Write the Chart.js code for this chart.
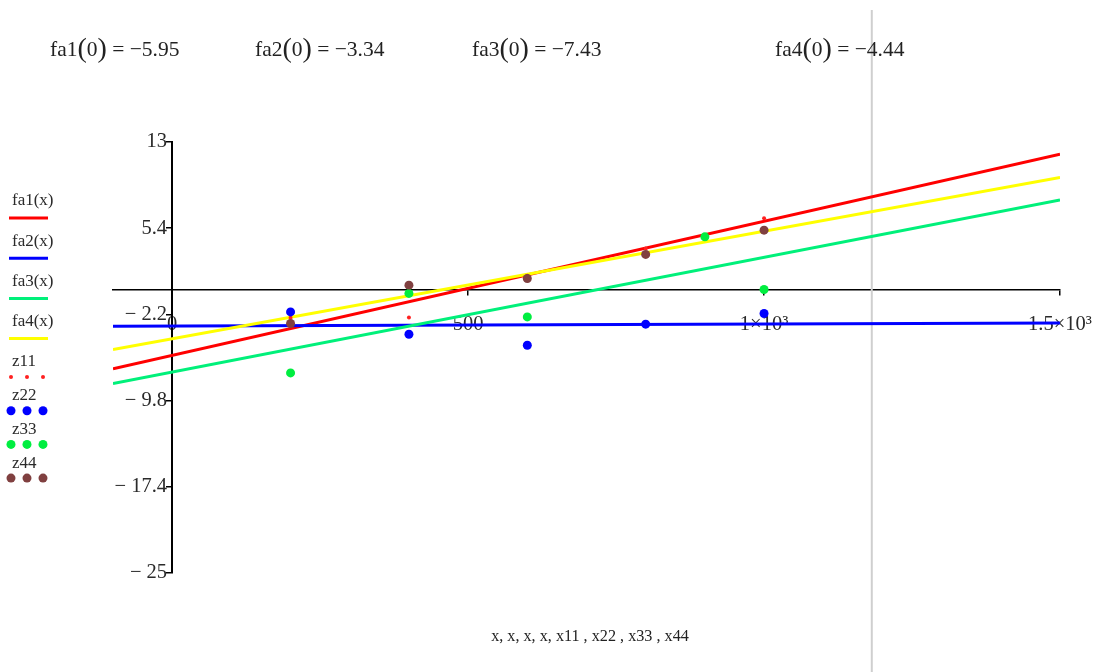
<!DOCTYPE html>
<html>
<head>
<meta charset="utf-8">
<script src="https://cdn.jsdelivr.net/npm/chart.js@4.4.1/dist/chart.umd.min.js"></script>
<style>
  html, body { margin: 0; padding: 0; background: #fff; }
  #wrap { position: relative; width: 1102px; height: 672px; overflow: hidden; font-family: "Liberation Serif", "Times New Roman", serif; color: #222; }
  #c { position: absolute; left: 0; top: 0; }
  .top { position: absolute; top: 33px; font-size: 21.5px; white-space: nowrap; line-height: 28px; }
  .top .p { font-size: 28px; font-weight: 100; position: relative; top: 1px; }
  #xlab { position: absolute; top: 627px; left: 0; width: 1180px; text-align: center; font-size: 16.2px; white-space: pre; }
</style>
</head>
<body>
<div id="wrap">
  <canvas id="c" width="1102" height="672"></canvas>
  <div id="tops"></div>
  <div id="xlab"></div>
</div>
<script>
// ---- data ----
const lineX = [-100, 1500];
const fa1Y = [-7.0, 11.92];
const fa2Y = [-3.25, -2.95];
const fa3Y = [-8.3, 7.88];
const fa4Y = [-5.3, 9.88];

const x11 = [200, 400, 600, 800, 1000];
const z11 = [-2.5, -2.47, 1.2, 3.6, 6.27];
const x22 = [200, 400, 600, 800, 1000];
const z22 = [-1.98, -3.95, -4.92, -3.06, -2.12];
const x33 = [200, 400, 600, 900, 1000];
const z33 = [-7.36, -0.35, -2.42, 4.64, 0.0];
const x44 = [200, 400, 600, 800, 1000];
const z44 = [-3.0, 0.38, 0.97, 3.09, 5.23];

const yTicks = [13, 5.4, -2.2, -9.8, -17.4, -25];
const xTicks = [0, 500, 1000, 1500];
const xTickLabels = ['0', '500', '1×10³', '1.5×10³'];

const funcNames = ['fa1', 'fa2', 'fa3', 'fa4'];
const funcAt0 = [-5.95, -3.34, -7.43, -4.44];
const cursorX = [1182];
const xAxisText = 'x, x, x, x, x11 , x22 , x33 , x44';

// ---- top texts ----
const topLefts = [50, 255, 472, 775];
const tops = document.getElementById('tops');
funcNames.forEach((n, i) => {
  const d = document.createElement('div');
  d.className = 'top';
  d.style.left = topLefts[i] + 'px';
  const v = funcAt0[i];
  d.innerHTML = n + '<span class="p">(</span>0<span class="p">)</span> = ' + (v < 0 ? '−' : '') + Math.abs(v).toFixed(2);
  tops.appendChild(d);
});
document.getElementById('xlab').textContent = xAxisText;

const pts = (xs, ys) => xs.map((x, i) => ({ x: x, y: ys[i] }));

const lineDs = (label, ys, color, order) => ({
  label, data: pts(lineX, ys), showLine: true, borderColor: color, backgroundColor: color,
  borderWidth: 3, pointRadius: 0, order, legendKind: 'line'
});
const dotDs = (label, xs, ys, color, r, order) => ({
  label, data: pts(xs, ys), showLine: false, borderColor: color, backgroundColor: color,
  borderWidth: 0, pointRadius: r, order, legendKind: 'dot', legendR: r
});

const datasets = [
  lineDs('fa1(x)', fa1Y, '#ff0000', 8),
  lineDs('fa2(x)', fa2Y, '#0000ff', 7),
  lineDs('fa3(x)', fa3Y, '#00f07a', 6),
  lineDs('fa4(x)', fa4Y, '#ffff00', 5),
  dotDs('z11', x11, z11, '#ff2020', 2, 4),
  dotDs('z22', x22, z22, '#0000ff', 4.5, 3),
  dotDs('z33', x33, z33, '#00ee40', 4.5, 2),
  dotDs('z44', x44, z44, '#804040', 4.5, 1)
];

const cursorPlugin = {
  id: 'cursor',
  beforeDatasetsDraw(chart) {
    const ctx = chart.ctx;
    const px = chart.scales.x.getPixelForValue(cursorX[0]);
    ctx.save();
    ctx.strokeStyle = '#cfcfcf';
    ctx.lineWidth = 2;
    ctx.beginPath();
    ctx.moveTo(px, 10);
    ctx.lineTo(px, chart.height);
    ctx.stroke();
    ctx.restore();
  }
};

const legendPlugin = {
  id: 'sideLegend',
  afterDraw(chart) {
    const ctx = chart.ctx;
    ctx.save();
    ctx.font = '17px "Liberation Serif", serif';
    ctx.textBaseline = 'middle';
    let li = 0, di = 0;
    chart.data.datasets.forEach(ds => {
      if (ds.legendKind === 'line') {
        const ty = 201 + li * 40.2;
        ctx.fillStyle = '#2a2a2a';
        ctx.fillText(ds.label, 12, ty);
        ctx.strokeStyle = ds.borderColor;
        ctx.lineWidth = 3;
        ctx.beginPath();
        ctx.moveTo(9, ty + 17);
        ctx.lineTo(48, ty + 17);
        ctx.stroke();
        li++;
      } else {
        const ty = 362 + di * 33.7;
        ctx.fillStyle = '#2a2a2a';
        ctx.fillText(ds.label, 12, ty);
        ctx.fillStyle = ds.backgroundColor;
        [11, 27, 43].forEach(x => {
          ctx.beginPath();
          ctx.arc(x, ty + 15, ds.legendR, 0, Math.PI * 2);
          ctx.fill();
        });
        di++;
      }
    });
    ctx.restore();
  }
};

const tickFont = { family: '"Liberation Serif", serif', size: 20.5 };
const zeroPad = s => { s.paddingLeft = 0; s.paddingRight = 0; s.paddingTop = 0; s.paddingBottom = 0; };

new Chart(document.getElementById('c'), {
  type: 'scatter',
  data: { datasets },
  plugins: [cursorPlugin, legendPlugin],
  options: {
    responsive: false,
    animation: false,
    events: [],
    layout: { padding: { left: 113, top: 142, right: 42, bottom: 99 } },
    plugins: { legend: { display: false }, tooltip: { enabled: false } },
    scales: {
      x: {
        type: 'linear',
        min: -100, max: 1500,
        position: { y: 0 },
        afterBuildTicks: s => { s.ticks = xTicks.map(v => ({ value: v })); },
        afterFit: zeroPad,
        ticks: {
          color: '#2a2a2a', font: tickFont, padding: 18, maxRotation: 0, autoSkip: false,
          callback: (v) => { const i = xTicks.indexOf(v); return i >= 0 ? xTickLabels[i] : ''; }
        },
        grid: { display: true, drawOnChartArea: false, drawTicks: true, tickLength: 5, color: '#000', lineWidth: 1.5 },
        border: { display: true, color: '#000', width: 1.5 }
      },
      y: {
        type: 'linear',
        min: -25, max: 13,
        position: { x: 0 },
        afterBuildTicks: s => { s.ticks = yTicks.map(v => ({ value: v })); },
        afterFit: zeroPad,
        ticks: {
          color: '#2a2a2a', font: tickFont, autoSkip: false,
          callback: (v) => (v < 0 ? '− ' + Math.abs(v) : String(v)) + ' '
        },
        grid: { display: true, drawOnChartArea: false, drawTicks: true, tickLength: 5, color: '#000', lineWidth: 1.5 },
        border: { display: true, color: '#000', width: 2 }
      }
    }
  }
});
</script>
</body>
</html>
